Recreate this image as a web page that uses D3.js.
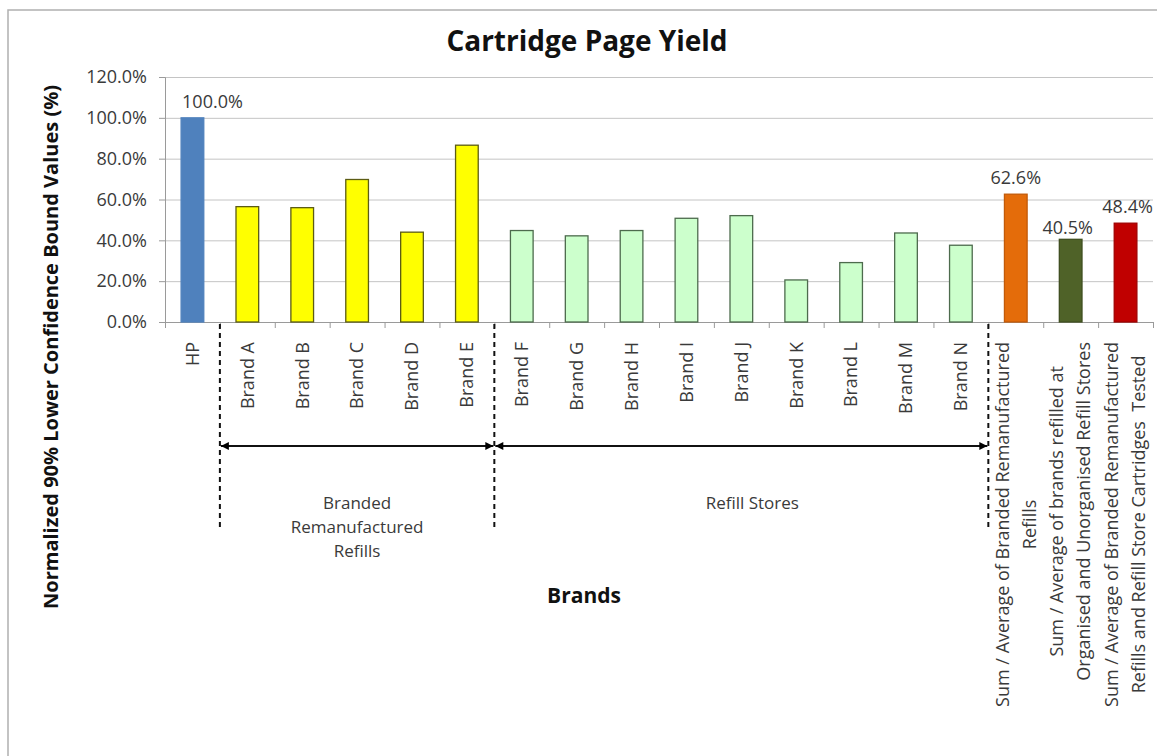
<html>

<head>
  <script src="https://d3js.org/d3.v7.min.js"></script>
  <style>
    body {
      margin: 0;
      background: #fff;
    }

    text {
      font-family: "Open Sans", sans-serif;
    }

    .gridlines line {
      stroke: #c4c4c4;
    }

    .gridlines .domain {
      stroke: none;
    }

    .axis path,
    .axis line {
      stroke: #9a9a9a;
    }

    .axis text {
      font-size: 18px;
      fill: #3a3a3a;
    }
  </style>
</head>

<body>
  <svg id="chart" width="1157" height="756"></svg>
  <script>
    // categories along the x axis (each label is a list of lines)
    const categories = ["HP", "Brand A", "Brand B", "Brand C", "Brand D", "Brand E",
      "Brand F", "Brand G", "Brand H", "Brand I", "Brand J", "Brand K", "Brand L", "Brand M", "Brand N",
      "Avg Branded", "Avg Refill Stores", "Avg All"]
    const tickLabels = [["HP"], ["Brand A"], ["Brand B"], ["Brand C"], ["Brand D"], ["Brand E"],
      ["Brand F"], ["Brand G"], ["Brand H"], ["Brand I"], ["Brand J"], ["Brand K"], ["Brand L"], ["Brand M"], ["Brand N"],
      ["Sum / Average of Branded Remanufactured", "Refills"],
      ["Sum / Average of brands refilled at", "Organised and Unorganised Refill Stores"],
      ["Sum / Average of Branded Remanufactured", "Refills and Refill Store Cartridges  Tested"]]
    const groupOf = ["hp", "branded", "branded", "branded", "branded", "branded",
      "store", "store", "store", "store", "store", "store", "store", "store", "store",
      "avgBranded", "avgStore", "avgAll"]
    // normalized 90% lower confidence bound values (%)
    const values = [100.0, 56.5, 56.0, 69.8, 44.0, 86.6,
      44.8, 42.2, 44.8, 50.8, 52.1, 20.6, 29.1, 43.6, 37.6,
      62.6, 40.5, 48.4]
    const labelled = ["HP", "Avg Branded", "Avg Refill Stores", "Avg All"]
    const yTicks = [0, 20, 40, 60, 80, 100, 120]
    // group brackets under the axis
    const bracketGroups = [
      { lines: ["Branded", "Remanufactured", "Refills"], from: "Brand A", to: "Brand E" },
      { lines: ["Refill Stores"], from: "Brand F", to: "Brand N" }
    ]
    const groupNames = ["hp", "branded", "store", "avgBranded", "avgStore", "avgAll"]
    const fillColors = ["#4F81BD", "#FFFF00", "#CCFFCC", "#E46C0A", "#4F6228", "#C00000"]
    const strokeColors = ["#4F81BD", "#5c5c14", "#4d6b4d", "#c25a08", "#3f4f20", "#a00000"]

    const svg = d3.select('#chart');
    const margin = { top: 77, right: 4, bottom: 434, left: 165 };
    const width = +svg.attr("width");
    const height = +svg.attr("height");
    const chartWidth = width - margin.left - margin.right;
    const chartHeight = height - margin.top - margin.bottom;

    // outer frame
    svg.append("rect")
      .attr("x", 8).attr("y", 10)
      .attr("width", 1170).attr("height", 780)
      .style("fill", "none").style("stroke", "#b0b0b0").style("stroke-width", 1.5);

    const xScale = d3.scaleBand().domain(categories).range([0, chartWidth])
      .paddingInner(0.587).paddingOuter(0.2935)
    const step = xScale.step()
    const boundary = c => xScale(c) - step * 0.587 / 2
    const yScale = d3.scaleLinear().domain([0, 120]).range([chartHeight, 0])
    const fillScale = d3.scaleOrdinal().domain(groupNames).range(fillColors)
    const strokeScale = d3.scaleOrdinal().domain(groupNames).range(strokeColors)

    const annotations = svg.append("g").attr("id", "annotations")
      .attr("transform", `translate(${margin.left},${margin.top})`);
    const chartArea = svg.append("g").attr("id", "bars")
      .attr("transform", `translate(${margin.left},${margin.top})`);

    // gridlines + y axis
    annotations.append("g")
      .attr("class", "gridlines")
      .call(d3.axisLeft(yScale).tickValues(yTicks).tickSize(-chartWidth).tickFormat(""));
    annotations.append("g")
      .attr("class", "y axis")
      .call(d3.axisLeft(yScale).tickValues(yTicks).tickSize(6).tickPadding(12)
        .tickFormat(d => d.toFixed(1) + "%"));

    // x axis: ticks between categories
    const indexScale = d3.scaleLinear().domain([0, categories.length]).range([0, chartWidth])
    annotations.append("g")
      .attr("class", "x axis")
      .attr("transform", `translate(0,${chartHeight})`)
      .call(d3.axisBottom(indexScale).ticks(categories.length).tickSize(6).tickFormat("").tickSizeOuter(0));

    // bars
    chartArea.selectAll("rect.bar")
      .data(values)
      .join("rect")
      .attr("class", "bar")
      .attr("x", (d, i) => xScale(categories[i]))
      .attr("width", xScale.bandwidth())
      .attr("y", d => yScale(d))
      .attr("height", d => chartHeight - yScale(d))
      .style("fill", (d, i) => fillScale(groupOf[i]))
      .style("stroke", (d, i) => strokeScale(groupOf[i]))
      .style("stroke-width", 1.3);

    // value labels (HP label sits a little right of its bar, like the original)
    const labelNudge = { "HP": [20, 0], "Avg Branded": [0, 0], "Avg Refill Stores": [-3, 5], "Avg All": [2, 0] }
    chartArea.selectAll("text.value")
      .data(categories.filter(c => labelled.includes(c)))
      .join("text")
      .attr("class", "value")
      .attr("x", c => xScale(c) + xScale.bandwidth() / 2 + labelNudge[c][0])
      .attr("y", c => yScale(values[categories.indexOf(c)]) - 10 + labelNudge[c][1])
      .attr("text-anchor", "middle")
      .style("font-size", "18px")
      .style("fill", "#3a3a3a")
      .text(c => values[categories.indexOf(c)].toFixed(1) + "%");

    // rotated category labels
    const lineGap = 27
    const labelGroups = annotations.selectAll("g.catlabel")
      .data(categories)
      .join("g")
      .attr("class", "catlabel")
      .attr("transform", c => `translate(${xScale(c) + xScale.bandwidth() / 2},${chartHeight + 20}) rotate(-90)`);
    labelGroups.each(function (c, i) {
      const g = d3.select(this)
      const lines = tickLabels[i]
      const texts = g.selectAll("text").data(lines).join("text")
        .attr("y", (l, j) => (j - (lines.length - 1) / 2) * lineGap)
        .attr("dy", "0.35em")
        .attr("text-anchor", "end")
        .style("font-size", "18px")
        .style("fill", "#3a3a3a")
        .style("white-space", "pre")
        .text(l => l)
      const lens = texts.nodes().map(n => n.getComputedTextLength())
      const maxLen = d3.max(lens)
      texts.attr("x", (l, j) => -(maxLen - lens[j]) / 2)
    })

    // dashed separators and bracket arrows
    const defs = svg.append("defs")
    defs.append("marker")
      .attr("id", "arrow")
      .attr("viewBox", "0 0 10 10")
      .attr("refX", 10).attr("refY", 5)
      .attr("markerUnits", "userSpaceOnUse")
      .attr("markerWidth", 9).attr("markerHeight", 8)
      .attr("orient", "auto-start-reverse")
      .append("path").attr("d", "M0,0 L10,5 L0,10 z").style("fill", "#000");

    const separators = [boundary("Brand A"), boundary("Brand F"), boundary("Avg Branded")]
    annotations.selectAll("line.sep")
      .data(separators)
      .join("line")
      .attr("class", "sep")
      .attr("x1", d => d).attr("x2", d => d)
      .attr("y1", chartHeight + 2).attr("y2", chartHeight + 208)
      .style("stroke", "#111").style("stroke-width", 2).style("stroke-dasharray", "5,4");

    bracketGroups.forEach((b, k) => {
      const x0 = boundary(b.from)
      const x1 = boundary(b.to) + step
      annotations.append("line")
        .attr("x1", x0 + 1).attr("x2", x1 - 1)
        .attr("y1", chartHeight + 124).attr("y2", chartHeight + 124)
        .attr("marker-start", "url(#arrow)")
        .attr("marker-end", "url(#arrow)")
        .style("stroke", "#111").style("stroke-width", 1.8);
      const cx = (x0 + x1) / 2 + (k === 1 ? 11 : 0)
      annotations.append("text")
        .attr("x", cx)
        .attr("y", chartHeight + 187)
        .attr("text-anchor", "middle")
        .style("font-size", "17px")
        .style("fill", "#3a3a3a")
        .selectAll("tspan").data(b.lines).join("tspan")
        .attr("x", cx)
        .attr("dy", (l, j) => j === 0 ? 0 : 24)
        .text(l => l);
    })

    // titles
    svg.append("text")
      .attr("x", 587).attr("y", 51)
      .attr("text-anchor", "middle")
      .style("font-size", "28px").style("font-weight", "bold").style("fill", "#111")
      .text("Cartridge Page Yield");
    svg.append("text")
      .attr("transform", "translate(51,347) rotate(-90)")
      .attr("dy", "0.35em")
      .attr("text-anchor", "middle")
      .style("font-size", "20px").style("font-weight", "bold").style("fill", "#111")
      .text("Normalized 90% Lower Confidence Bound Values (%)");
    svg.append("text")
      .attr("x", 584).attr("y", 603)
      .attr("text-anchor", "middle")
      .style("font-size", "21px").style("font-weight", "bold").style("fill", "#111")
      .text("Brands");
  </script>
</body>

</html>
